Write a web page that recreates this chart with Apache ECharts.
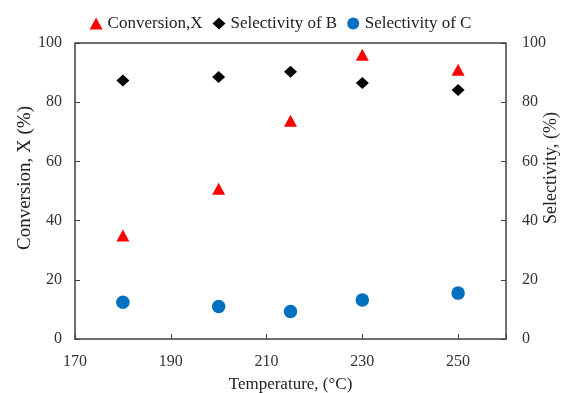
<!DOCTYPE html>
<html>
<head>
<meta charset="utf-8">
<script src="https://cdn.jsdelivr.net/npm/echarts@6/dist/echarts.min.js"></script>
<style>
  html, body { margin: 0; padding: 0; background: #fff; }
  #chart { width: 561px; height: 393px; }
</style>
</head>
<body>
<div id="chart"></div>
<script>
const temperatures = [180, 200, 215, 230, 250]
const conversion = [35, 50.8, 73.7, 96, 91]
const selectivityB = [87.3, 88.5, 90.3, 86.5, 84.1]
const selectivityC = [12.4, 11, 9.3, 13.2, 15.5]

const pairs = (ys) => temperatures.map((t, i) => [t, ys[i]])

const font = 'Liberation Serif'
const axisColor = '#404040'

const chart = echarts.init(document.getElementById('chart'))

chart.setOption({
  animation: false,
  textStyle: {fontFamily: font},
  legend: {
    top: 10,
    left: 'center',
    itemGap: 10,
    itemWidth: 13,
    itemHeight: 12,
    textStyle: {fontFamily: font, fontSize: 17, color: '#222'},
    data: ['Conversion,X', 'Selectivity of B', 'Selectivity of C']
  },
  grid: {left: 75, right: 55, top: 43, bottom: 54, outerBoundsMode: 'none', containLabel: false},
  xAxis: {
    type: 'value',
    min: 170,
    max: 260,
    interval: 20,
    name: 'Temperature, (°C)',
    nameLocation: 'middle',
    nameGap: 37,
    nameMoveOverlap: false,
    nameTextStyle: {fontFamily: font, fontSize: 17, color: '#222'},
    axisLine: {lineStyle: {color: axisColor, width: 1.5}},
    axisTick: {inside: true, length: 5, lineStyle: {color: axisColor}},
    axisLabel: {fontFamily: font, fontSize: 16, color: '#333', margin: 15,
      formatter: v => v > 250 ? '' : v},
    splitLine: {show: false}
  },
  yAxis: [
    {
      type: 'value',
      min: 0,
      max: 100,
      interval: 20,
      name: 'Conversion, X (%)',
      nameLocation: 'middle',
      nameGap: 40,
      nameMoveOverlap: false,
      nameTextStyle: {fontFamily: font, fontSize: 19, color: '#222', padding: [0, 0, 0, 26]},
      axisLine: {show: true, lineStyle: {color: axisColor, width: 1.5}},
      axisTick: {show: true, inside: true, length: 5, lineStyle: {color: axisColor}},
      axisLabel: {fontFamily: font, fontSize: 16, color: '#333', margin: 13},
      splitLine: {show: false}
    },
    {
      type: 'value',
      min: 0,
      max: 100,
      interval: 20,
      position: 'right',
      name: 'Selectivity, (%)',
      nameLocation: 'middle',
      nameGap: 36,
      nameRotate: 90,
      nameMoveOverlap: false,
      nameTextStyle: {fontFamily: font, fontSize: 18, color: '#222', padding: [0, 0, 0, 46]},
      axisLine: {show: true, lineStyle: {color: axisColor, width: 1.5}},
      axisTick: {show: true, inside: true, length: 5, lineStyle: {color: axisColor}},
      axisLabel: {fontFamily: font, fontSize: 16, color: '#333', margin: 16},
      splitLine: {show: false}
    }
  ],
  series: [
    {
      name: 'Conversion,X',
      type: 'scatter',
      symbol: 'triangle',
      symbolSize: [13, 12],
      itemStyle: {color: '#ff0000', opacity: 1},
      data: pairs(conversion)
    },
    {
      name: 'Selectivity of B',
      type: 'scatter',
      symbol: 'diamond',
      symbolSize: [13, 12],
      itemStyle: {color: '#000000', opacity: 1},
      data: pairs(selectivityB)
    },
    {
      name: 'Selectivity of C',
      type: 'scatter',
      symbol: 'circle',
      symbolSize: 13.5,
      yAxisIndex: 1,
      itemStyle: {color: '#0070c0', opacity: 1},
      data: pairs(selectivityC)
    }
  ]
})

// top border of the plot frame
chart.setOption({
  graphic: [{
    type: 'line',
    shape: {x1: 75, y1: 43, x2: 506, y2: 43},
    style: {stroke: axisColor, lineWidth: 1.5}
  }]
})
</script>
</body>
</html>
